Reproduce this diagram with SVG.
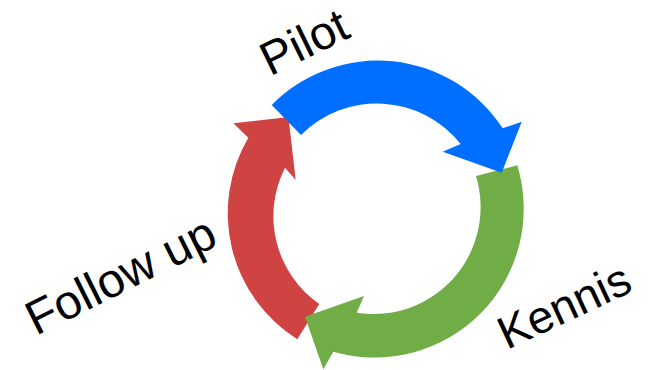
<svg xmlns="http://www.w3.org/2000/svg" width="660" height="370" viewBox="0 0 660 370">
<style>
.lbl{font-family:"Liberation Sans",Arial,sans-serif;font-size:46px;fill:#000}
</style>
<rect width="660" height="370" fill="#fff"/>
<g id="connectors">
<path id="red" d="M297.3 339.3 A149 149 0 0 1 248.3 137.7 L233.3 123.3 L288.5 117.1 L295.7 180 L285 167.7 A107 107 0 0 0 319.3 304 Z" fill="#CF4343"/>
<path id="green" d="M517.3 165.3 A149 149 0 0 1 333.3 351.7 L323.3 369.3 L305 316.7 L364 296 L356.7 312.7 A107 107 0 0 0 476 176 Z" fill="#70AD47"/>
<path id="blue" d="M271.7 105 A149 149 0 0 1 502.7 128.3 L521.7 121.7 L501.7 172.7 L442.7 151.7 L460.7 144 A107 107 0 0 0 301 135 Z" fill="#006FFF"/>
</g>
<g id="pilot"><text class="lbl" style="font-size:47px" transform="translate(270 76.5) rotate(-26)">Pilot</text></g>
<g id="kennis"><text class="lbl" transform="translate(507 350) rotate(-25)">Kennis</text></g>
<g id="followup"><text class="lbl" style="font-size:48px" transform="translate(36 336) rotate(-26.5)">Follow up</text></g>
</svg>
